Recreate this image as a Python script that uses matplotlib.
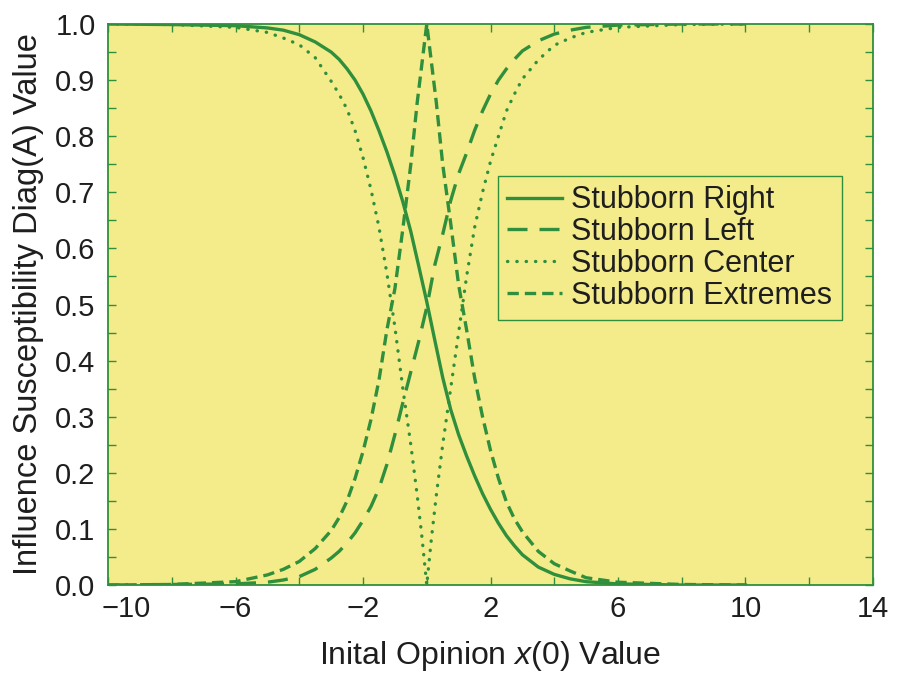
import matplotlib
matplotlib.use("Agg")
import matplotlib.pyplot as plt
from matplotlib.ticker import FixedLocator, FixedFormatter
from matplotlib.transforms import ScaledTranslation

# values
side_x = [-10, -8, -6, -5, -4.5, -4, -3.5, -3, -2.75, -2.5, -2.25, -2, -1.75,
          -1.5, -1.25, -1, -0.75, -0.5, -0.25, 0, 0.25, 0.5, 0.75, 1, 1.25,
          1.5, 1.75, 2, 2.25, 2.5, 2.75, 3, 3.5, 4, 4.5, 5, 6, 8, 10]
right_y = [1.0, 0.999, 0.997, 0.993, 0.989, 0.981, 0.968, 0.95, 0.937, 0.92,
           0.9, 0.875, 0.845, 0.81, 0.772, 0.73, 0.683, 0.63, 0.568, 0.505,
           0.437, 0.37, 0.313, 0.268, 0.23, 0.195, 0.163, 0.135, 0.11, 0.088,
           0.07, 0.054, 0.032, 0.019, 0.011, 0.006, 0.002, 0.0, 0.0]
left_y = [0.0, 0.001, 0.002, 0.005, 0.009, 0.015, 0.028, 0.048, 0.06, 0.075,
          0.093, 0.115, 0.14, 0.172, 0.215, 0.268, 0.325, 0.38, 0.435, 0.495,
          0.57, 0.625, 0.685, 0.733, 0.77, 0.81, 0.845, 0.875, 0.9, 0.92,
          0.937, 0.952, 0.97, 0.982, 0.989, 0.994, 0.998, 1.0, 1.0]

mid_x = [-10, -8, -6, -5, -4.5, -4, -3.5, -3, -2.75, -2.5, -2.25, -2, -1.75,
         -1.5, -1.25, -1, -0.75, -0.5, -0.3, -0.15, 0, 0.15, 0.3, 0.5, 0.75,
         1, 1.25, 1.5, 1.75, 2, 2.25, 2.5, 2.75, 3, 3.5, 4, 4.5, 5, 6, 8, 10]
center_y = [1.0, 0.999, 0.994, 0.985, 0.975, 0.963, 0.94, 0.898, 0.875, 0.848,
            0.81, 0.762, 0.705, 0.638, 0.555, 0.46, 0.35, 0.25, 0.16, 0.085,
            0.0, 0.085, 0.16, 0.25, 0.35, 0.45, 0.55, 0.637, 0.7, 0.755, 0.8,
            0.845, 0.875, 0.902, 0.936, 0.962, 0.975, 0.985, 0.994, 0.999, 1.0]
extreme_y = [0.0, 0.001, 0.006, 0.018, 0.028, 0.042, 0.065, 0.097, 0.12, 0.15,
             0.19, 0.238, 0.295, 0.365, 0.455, 0.528, 0.635, 0.75, 0.86, 0.93,
             1.0, 0.93, 0.86, 0.75, 0.645, 0.535, 0.455, 0.37, 0.3, 0.24,
             0.19, 0.148, 0.118, 0.095, 0.06, 0.038, 0.025, 0.013, 0.005,
             0.001, 0.0]

x_major = [-10, -6, -2, 2, 6, 10, 14]
x_minor = [-8, -4, 0, 4, 8, 12]
y_major = [i / 10 for i in range(11)]
y_minor = [i / 20 for i in range(1, 20, 2)]

GREEN = "#2f8f3c"
YELLOW = "#f4ec8a"
TEXT = "#1e1e1e"

plt.rcParams["font.family"] = ["Liberation Sans", "DejaVu Sans"]
plt.rcParams["mathtext.fontset"] = "custom"
plt.rcParams["mathtext.rm"] = "Liberation Sans"
plt.rcParams["mathtext.it"] = "Liberation Sans:italic"

fig = plt.figure(figsize=(9.01, 6.74), dpi=100)
ax = fig.add_axes([0.1199, 0.132, 0.849, 0.8324])
ax.set_facecolor(YELLOW)

lw = 2.4
ax.plot(side_x, right_y, color=GREEN, lw=lw, label="Stubborn Right")
ax.plot(side_x, left_y, color=GREEN, lw=lw, ls=(0, (6.0, 3.6)),
        label="Stubborn Left")
ax.plot(mid_x, center_y, color=GREEN, lw=lw, ls=(0, (0.1, 2.7)),
        dash_capstyle="round", label="Stubborn Center")
ax.plot(mid_x, extreme_y, color=GREEN, lw=lw, ls=(0, (3.4, 1.8)),
        label="Stubborn Extremes")

ax.set_xlim(-10, 14)
ax.set_ylim(0, 1)

ax.xaxis.set_major_locator(FixedLocator(x_major))
ax.xaxis.set_major_formatter(
    FixedFormatter(["\u2212%d" % -v if v < 0 else "%d" % v for v in x_major]))
ax.xaxis.set_minor_locator(FixedLocator(x_minor))
ax.yaxis.set_major_locator(FixedLocator(y_major))
ax.yaxis.set_major_formatter(FixedFormatter(["%.1f" % v for v in y_major]))
ax.yaxis.set_minor_locator(FixedLocator(y_minor))

for which in ("major", "minor"):
    ax.tick_params(which=which, direction="in", length=6, width=1.0,
                   color=GREEN, top=True, right=True)
ax.tick_params(axis="x", which="major", labelsize=21, pad=7, labelcolor=TEXT)
ax.tick_params(axis="y", which="major", labelsize=21, pad=9, labelcolor=TEXT)

# the first x label sits to the right of the axis corner in the original
first = ax.xaxis.get_major_ticks()[0].label1
first.set_horizontalalignment("left")
first.set_transform(first.get_transform()
                    + ScaledTranslation(-6 / 100, 0, fig.dpi_scale_trans))

for sp in ax.spines.values():
    sp.set_color(GREEN)
    sp.set_linewidth(1.3)

ax.set_xlabel(r"Inital Opinion $\it{x}$(0) Value", fontsize=23, labelpad=12,
              color=TEXT)
ax.set_ylabel("Influence Susceptibility Diag(A) Value", fontsize=23.5,
              labelpad=8, color=TEXT)

leg = ax.legend(loc="upper left", bbox_to_anchor=(0.51, 0.729),
                borderaxespad=0, fontsize=22, frameon=True, fancybox=False,
                facecolor=YELLOW, edgecolor=GREEN, framealpha=1,
                handlelength=1.8, handletextpad=0.3, labelspacing=0.06,
                borderpad=0.3)
leg.get_frame().set_linewidth(1.0)
for txt in leg.get_texts():
    txt.set_color(TEXT)

fig.savefig("out.png", dpi=100, facecolor="white")
